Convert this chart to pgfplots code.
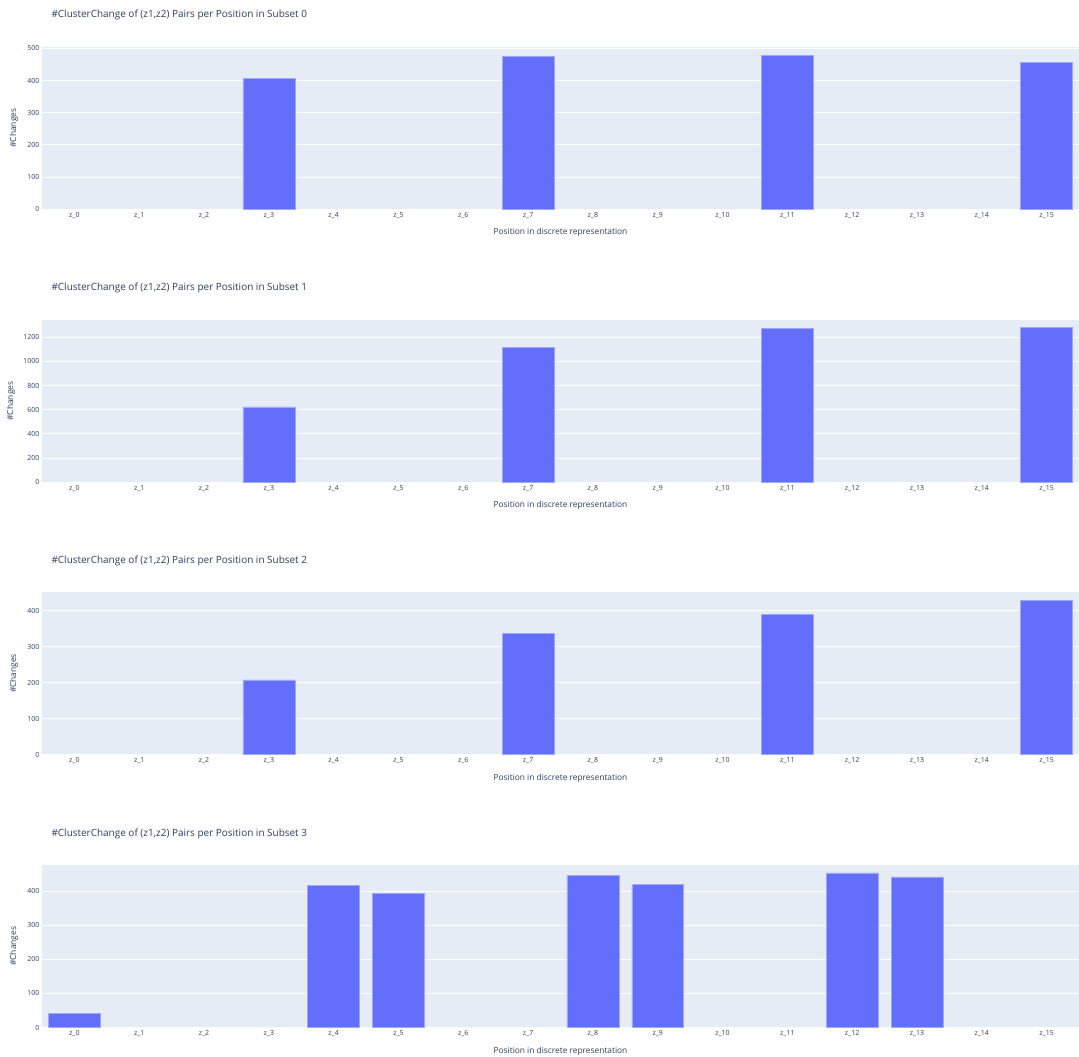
\documentclass[border=0pt]{standalone}
\usepackage{fontspec}
\setmainfont{Open Sans}
\usepackage{pgfplots}
\pgfplotsset{compat=1.18}

\definecolor{plotbg}{HTML}{E5ECF6}
\definecolor{barfill}{HTML}{636EFA}
\definecolor{baredge}{RGB}{160,168,250}
\definecolor{inktext}{HTML}{2A3F5F}

\pgfplotsset{
  subsetbars/.style={
    scale only axis,
    width=1037bp, height=162.5bp,
    xmin=-0.5, xmax=15.5, ymin=0,
    axis background/.style={fill=plotbg},
    axis line style={draw=none},
    major tick length=0pt,
    ymajorgrids,
    major grid style={white, line width=0.9bp},
    xtick={0,...,15},
    xticklabels={z\_0,z\_1,z\_2,z\_3,z\_4,z\_5,z\_6,z\_7,z\_8,z\_9,z\_10,z\_11,z\_12,z\_13,z\_14,z\_15},
    /pgf/number format/assume math mode=true,
    /pgf/number format/1000 sep={},
    ticklabel style={font=\fontsize{7}{8}\selectfont, text=inktext},
    xticklabel style={inner sep=0pt, anchor=north, yshift=-3bp},
    yticklabel style={inner sep=0pt, anchor=east, xshift=-2.5bp},
    ybar, bar width=0.8,
    xlabel={Position in discrete representation},
    ylabel={\#Changes},
    xlabel style={font=\fontsize{8.4}{10}\selectfont, text=inktext,
      at={(axis description cs:0.5,-0.144)}, anchor=center},
    ylabel style={font=\fontsize{8.4}{10}\selectfont, text=inktext, anchor=center},
    title style={font=\fontsize{10}{12}\selectfont, text=inktext,
      at={(axis description cs:0,1)}, anchor=west, xshift=6bp, yshift=25.5bp},
    clip=false,
  },
  subsetbar/.style={fill=barfill, draw=baredge, line width=0.5bp},
}

\begin{document}
\begin{tikzpicture}
\path[use as bounding box] (0,0) rectangle (1079bp,-1057bp);

% Subset 0 (positions with no changes are left out)
\begin{axis}[subsetbars, at={(42bp,-46.8bp)}, anchor=north west,
  ymax=505, ytick={0,100,...,500},
  ylabel style={at={(axis description cs:-0.027,0.5)}},
  title={\#ClusterChange of (z1,z2) Pairs per Position in Subset 0}]
\addplot[subsetbar] coordinates {(3,407) (7,476) (11,479) (15,456)};
\end{axis}

% Subset 1
\begin{axis}[subsetbars, at={(42bp,-319.8bp)}, anchor=north west,
  ymax=1344, ytick={0,200,...,1200},
  ylabel style={at={(axis description cs:-0.030,0.5)}},
  title={\#ClusterChange of (z1,z2) Pairs per Position in Subset 1}]
\addplot[subsetbar] coordinates {(3,623) (7,1117) (11,1273) (15,1280)};
\end{axis}

% Subset 2
\begin{axis}[subsetbars, at={(42bp,-592.2bp)}, anchor=north west,
  ymax=452, ytick={0,100,...,400},
  ylabel style={at={(axis description cs:-0.027,0.5)}},
  title={\#ClusterChange of (z1,z2) Pairs per Position in Subset 2}]
\addplot[subsetbar] coordinates {(3,208) (7,337) (11,390) (15,430)};
\end{axis}

% Subset 3
\begin{axis}[subsetbars, at={(42bp,-865bp)}, anchor=north west,
  ymax=477, ytick={0,100,...,400},
  ylabel style={at={(axis description cs:-0.027,0.5)}},
  title={\#ClusterChange of (z1,z2) Pairs per Position in Subset 3}]
\addplot[subsetbar] coordinates {
  (0,42) (4,417) (5,393) (8,446) (9,421) (12,454) (13,442)};
\end{axis}
\end{tikzpicture}
\end{document}
